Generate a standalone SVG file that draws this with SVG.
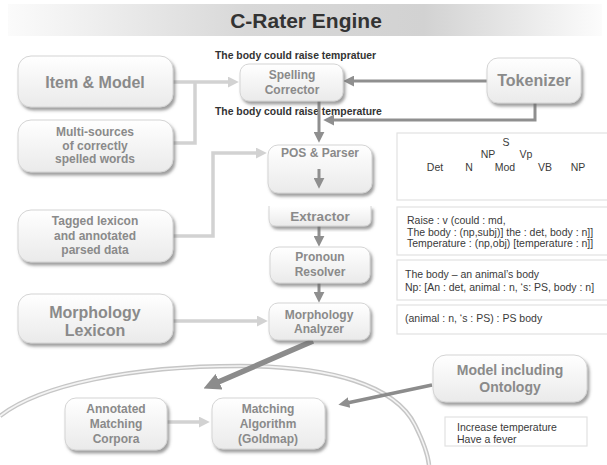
<svg xmlns="http://www.w3.org/2000/svg" width="607" height="465" viewBox="0 0 607 465">
<defs>
<linearGradient id="tb" x1="0" y1="0" x2="1" y2="0">
<stop offset="0" stop-color="#fbfbfb"/>
<stop offset="0.4" stop-color="#d8d8d8"/>
<stop offset="0.7" stop-color="#d2d2d2"/>
<stop offset="1" stop-color="#fcfcfc"/>
</linearGradient>
<linearGradient id="bx" x1="0" y1="0" x2="0" y2="1">
<stop offset="0" stop-color="#ffffff"/>
<stop offset="1" stop-color="#eaeaea"/>
</linearGradient>
<filter id="sh" x="-10%" y="-10%" width="130%" height="140%">
<feDropShadow dx="2" dy="3" stdDeviation="1.6" flood-color="#6a6a6a" flood-opacity="0.65"/>
</filter>
<marker id="aL" viewBox="0 0 10 10" markerUnits="userSpaceOnUse" markerWidth="11" markerHeight="11" refX="2" refY="5" orient="auto">
<path d="M0,0 L10,5 L0,10 z" fill="#d2d2d2"/>
</marker>
<marker id="aD" viewBox="0 0 10 10" markerUnits="userSpaceOnUse" markerWidth="11" markerHeight="11" refX="2" refY="5" orient="auto">
<path d="M0,0 L10,5 L0,10 z" fill="#8f8f8f"/>
</marker>
<marker id="aB" viewBox="0 0 10 10" markerUnits="userSpaceOnUse" markerWidth="17" markerHeight="17" refX="2" refY="5" orient="auto">
<path d="M0,0 L10,5 L0,10 z" fill="#8c8c8c"/>
</marker>
</defs>
<style>
.box{fill:url(#bx);stroke:#d4d4d4;stroke-width:1;filter:url(#sh)}
.bt{font-family:"Liberation Sans",Arial,sans-serif;font-weight:bold;fill:#8a8a8a;text-anchor:middle}
.s12{font-size:12px}
.s16{font-size:16px}
.s14{font-size:14px}
.pan{fill:#ffffff;stroke:#e2e2e2;stroke-width:1.2}
.pt{font-family:"Liberation Sans",Arial,sans-serif;font-size:10.5px;fill:#3a3a3a}
.cap{font-family:"Liberation Sans",Arial,sans-serif;font-size:10.4px;font-weight:bold;fill:#333}
.cl{fill:none;stroke:#d2d2d2;stroke-width:3.5}
.cd{fill:none;stroke:#8f8f8f;stroke-width:3}
</style>
<rect width="607" height="465" fill="#ffffff"/>
<g id="title">
<rect x="8" y="4" width="594" height="32" fill="url(#tb)"/>
<text x="306" y="28" font-family="Liberation Sans,Arial,sans-serif" font-size="21" font-weight="bold" fill="#333" text-anchor="middle">C-Rater Engine</text>
</g>
<g id="boundary">
<path d="M0,416 C40,385 130,366 240,366 C330,366 395,385 415,425 C424,443 428,455 429,465" fill="none" stroke="#c6c6c6" stroke-width="4.5"/>
<path d="M0,416 C40,385 130,366 240,366 C330,366 395,385 415,425 C424,443 428,455 429,465" fill="none" stroke="#f4f4f4" stroke-width="1.6"/>
</g>
<text class="cap" x="215" y="59">The body could raise tempratuer</text>
<text class="cap" x="215" y="115">The body could raise temperature</text>
<g id="connectors">
<path class="cl" d="M173,82 H230" marker-end="url(#aL)"/>
<path class="cl" d="M195,82 V143 H173"/>
<path class="cl" d="M173,236 H213 V153 H258" marker-end="url(#aL)"/>
<path class="cl" d="M173,321 H259" marker-end="url(#aL)"/>
<path class="cl" d="M167,422 H201" marker-end="url(#aL)"/>
<path class="cd" d="M487,81 H352" marker-end="url(#aD)"/>
<path class="cd" d="M535,103 V120 H332" marker-end="url(#aD)"/>
<path class="cd" d="M319,101 V134" marker-end="url(#aD)"/>
<path class="cd" d="M319,226 V238" marker-end="url(#aD)"/>
<path class="cd" d="M319,283 V294" marker-end="url(#aD)"/>
<path fill="none" stroke="#8c8c8c" stroke-width="5.5" d="M313,341 L216,383" marker-end="url(#aB)"/>
<path fill="none" stroke="#8c8c8c" stroke-width="3.5" d="M432,385 L347,403" marker-end="url(#aD)"/>
</g>
<g id="item-model"><rect class="box" x="18" y="56" width="155" height="51" rx="13"/><text class="bt s16" x="95" y="88">Item &amp; Model</text></g>
<g id="multi-sources"><rect class="box" x="18" y="120" width="155" height="52" rx="13"/><text class="bt s12" x="95" y="136">Multi-sources</text><text class="bt s12" x="95" y="150">of correctly</text><text class="bt s12" x="95" y="163">spelled words</text></g>
<g id="tagged-lexicon"><rect class="box" x="18" y="210" width="155" height="52" rx="13"/><text class="bt s12" x="95" y="225">Tagged lexicon</text><text class="bt s12" x="95" y="240">and annotated</text><text class="bt s12" x="95" y="254">parsed data</text></g>
<g id="morphology-lexicon"><rect class="box" x="18" y="294" width="155" height="49" rx="13"/><text class="bt s16" x="95" y="318">Morphology</text><text class="bt s16" x="95" y="336">Lexicon</text></g>
<g id="spelling-corrector"><rect class="box" x="240" y="64" width="103" height="37" rx="9"/><text class="bt s12" x="292" y="79">Spelling</text><text class="bt s12" x="292" y="94">Corrector</text></g>
<g id="tokenizer"><rect class="box" x="487" y="58" width="94" height="45" rx="11"/><text class="bt s16" x="534" y="86">Tokenizer</text></g>
<g id="pos-parser"><rect class="box" x="268" y="145" width="104" height="48" rx="10"/><text class="bt s12" x="320" y="157">POS &amp; Parser</text><path class="cd" d="M319,169 V180" marker-end="url(#aD)"/></g>
<g id="extractor"><path class="box" d="M269,206 V219 Q269,226 276,226 H364 Q371,226 371,219 V206"/><text class="bt" font-size="13.5" x="320" y="221">Extractor</text></g>
<g id="pronoun-resolver"><rect class="box" x="270" y="247" width="100" height="36" rx="9"/><text class="bt s12" x="320" y="261">Pronoun</text><text class="bt s12" x="320" y="276">Resolver</text></g>
<g id="morphology-analyzer"><rect class="box" x="269" y="303" width="101" height="37" rx="9"/><text class="bt s12" x="319" y="319">Morphology</text><text class="bt s12" x="319" y="333">Analyzer</text></g>
<g id="annotated-corpora"><rect class="box" x="65" y="398" width="102" height="52" rx="11"/><text class="bt s12" x="116" y="413">Annotated</text><text class="bt s12" x="116" y="428">Matching</text><text class="bt s12" x="116" y="443">Corpora</text></g>
<g id="matching-algorithm"><rect class="box" x="212" y="398" width="113" height="51" rx="11"/><text class="bt s12" x="268" y="413">Matching</text><text class="bt s12" x="268" y="428">Algorithm</text><text class="bt s12" x="268" y="443">(Goldmap)</text></g>
<g id="model-ontology"><rect class="box" x="433" y="355" width="154" height="47" rx="13"/><text class="bt s14" x="510" y="375">Model including</text><text class="bt s14" x="510" y="392">Ontology</text></g>
<g id="parse-tree"><rect class="pan" x="397" y="133" width="215" height="67"/>
<text class="pt" x="506" y="146" text-anchor="middle">S</text>
<text class="pt" x="488" y="158" text-anchor="middle">NP</text>
<text class="pt" x="526" y="158" text-anchor="middle">Vp</text>
<text class="pt" x="435" y="171" text-anchor="middle">Det</text>
<text class="pt" x="469" y="171" text-anchor="middle">N</text>
<text class="pt" x="505" y="171" text-anchor="middle">Mod</text>
<text class="pt" x="545" y="171" text-anchor="middle">VB</text>
<text class="pt" x="578" y="171" text-anchor="middle">NP</text>
</g>
<g id="extraction-panel"><rect class="pan" x="397" y="207" width="215" height="48"/>
<text class="pt" x="407" y="223.5">Raise : v (could : md,</text>
<text class="pt" x="407" y="235.5">The body : (np,subj)] the : det, body : n]]</text>
<text class="pt" x="407" y="247">Temperature : (np,obj) [temperature : n]]</text>
</g>
<g id="pronoun-panel"><rect class="pan" x="397" y="260" width="215" height="40"/>
<text class="pt" x="405" y="277.5">The body – an animal’s body</text>
<text class="pt" x="405" y="290.5">Np: [An : det, animal : n, ‘s: PS, body : n]</text>
</g>
<g id="morph-panel"><rect class="pan" x="397" y="305" width="215" height="29"/>
<text class="pt" x="405" y="322">(animal : n, ‘s : PS) : PS body</text>
</g>
<g id="synonym-panel"><rect class="pan" x="445" y="417" width="142" height="29"/>
<text class="pt" x="457" y="430.5">Increase temperature</text>
<text class="pt" x="457" y="442.5">Have a fever</text>
</g>
</svg>
